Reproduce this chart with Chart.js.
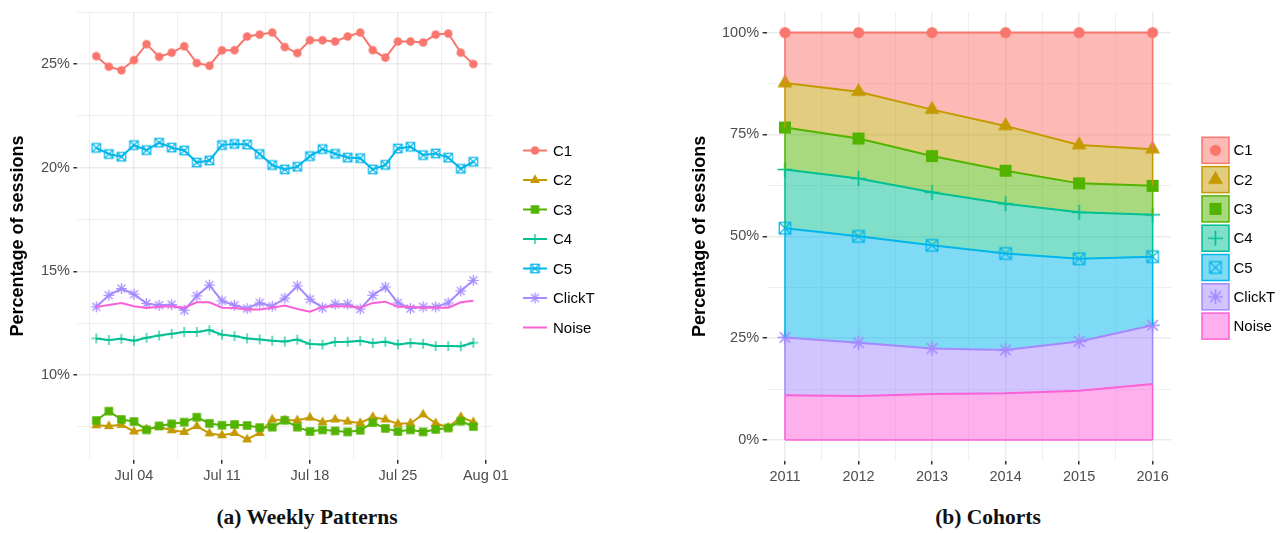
<!DOCTYPE html>
<html>
<head>
<meta charset="utf-8">
<script src="https://cdn.jsdelivr.net/npm/chart.js@4.4.1/dist/chart.umd.min.js"></script>
<style>
  body { margin: 0; background: #fff; width: 1283px; height: 533px; position: relative; overflow: hidden; }
  canvas { position: absolute; top: 0; }
  #weekly { left: 0; }
  #cohorts { left: 640px; }
  .caption { position: absolute; top: 505px; width: 300px; text-align: center;
             font-family: "Liberation Serif", serif; font-weight: bold; font-size: 21.5px; color: #111; }
</style>
</head>
<body>
<canvas id="weekly" width="640" height="492"></canvas>
<canvas id="cohorts" width="643" height="492"></canvas>
<div class="caption" style="left:157px">(a) Weekly Patterns</div>
<div class="caption" style="left:838px">(b) Cohorts</div>
<script>
// series names / colours (ggplot default hue palette)
const seriesNames = ['C1', 'C2', 'C3', 'C4', 'C5', 'ClickT', 'Noise'];
const seriesColors = ['#F8766D', '#C49A00', '#53B400', '#00C094', '#00B6EB', '#A58AFF', '#FB61D7'];
const seriesShapes = ['circle', 'triangle', 'square', 'plus', 'boxx', 'star', null];

// (a) weekly patterns: day of July (32 = Aug 01)
const days = [1, 2, 3, 4, 5, 6, 7, 8, 9, 10, 11, 12, 13, 14, 15, 16, 17, 18, 19, 20, 21, 22, 23, 24, 25, 26, 27, 28, 29, 30, 31];
const weekTickValues = [4, 11, 18, 25, 32];
const weekTickLabels = ['Jul 04', 'Jul 11', 'Jul 18', 'Jul 25', 'Aug 01'];
const weeklyPctTicks = [10, 15, 20, 25];

const weeklyC1 = [25.38, 24.87, 24.70, 25.19, 25.96, 25.35, 25.55, 25.86, 25.05, 24.92, 25.66, 25.67, 26.33, 26.42, 26.52, 25.82, 25.53, 26.15, 26.15, 26.09, 26.33, 26.52, 25.67, 25.31, 26.09, 26.09, 26.04, 26.42, 26.47, 25.55, 25.00];
const weeklyC2 = [7.58, 7.54, 7.60, 7.28, 7.39, 7.50, 7.34, 7.26, 7.54, 7.19, 7.10, 7.21, 6.90, 7.21, 7.86, 7.82, 7.82, 7.95, 7.73, 7.86, 7.76, 7.69, 7.98, 7.86, 7.65, 7.68, 8.10, 7.68, 7.47, 7.98, 7.73];
const weeklyC3 = [7.81, 8.26, 7.86, 7.76, 7.36, 7.55, 7.65, 7.73, 7.97, 7.67, 7.58, 7.62, 7.57, 7.47, 7.49, 7.82, 7.49, 7.28, 7.36, 7.31, 7.26, 7.34, 7.71, 7.43, 7.28, 7.36, 7.26, 7.38, 7.45, 7.78, 7.52];
const weeklyC4 = [11.77, 11.69, 11.75, 11.66, 11.80, 11.91, 11.99, 12.08, 12.08, 12.17, 11.95, 11.88, 11.77, 11.72, 11.66, 11.62, 11.71, 11.50, 11.47, 11.60, 11.61, 11.65, 11.55, 11.61, 11.48, 11.55, 11.51, 11.40, 11.40, 11.39, 11.56];
const weeklyC5 = [20.96, 20.66, 20.53, 21.09, 20.85, 21.21, 20.97, 20.83, 20.25, 20.35, 21.09, 21.15, 21.12, 20.66, 20.13, 19.92, 20.05, 20.56, 20.90, 20.67, 20.49, 20.46, 19.92, 20.14, 20.93, 21.01, 20.61, 20.69, 20.49, 19.95, 20.29];
const weeklyClickT = [13.29, 13.85, 14.17, 13.90, 13.45, 13.37, 13.40, 13.13, 13.82, 14.34, 13.58, 13.37, 13.21, 13.48, 13.32, 13.71, 14.30, 13.66, 13.25, 13.42, 13.42, 13.19, 13.85, 14.25, 13.48, 13.21, 13.29, 13.29, 13.48, 14.06, 14.57];
const weeklyNoise = [13.29, 13.38, 13.48, 13.32, 13.23, 13.29, 13.32, 13.25, 13.51, 13.51, 13.25, 13.23, 13.16, 13.16, 13.25, 13.35, 13.19, 13.06, 13.29, 13.32, 13.32, 13.25, 13.48, 13.54, 13.29, 13.29, 13.25, 13.25, 13.25, 13.51, 13.58];

// (b) cohorts: share of sessions per class, stacked (sums to 100)
const years = [2011, 2012, 2013, 2014, 2015, 2016];
const cohortPctTicks = [0, 25, 50, 75, 100];
const cohortC1 = [12.4, 14.5, 18.9, 22.9, 27.6, 28.6];
const cohortC2 = [10.9, 11.5, 11.4, 11.0, 9.4, 9.0];
const cohortC3 = [10.3, 9.8, 8.9, 8.1, 7.1, 7.1];
const cohortC4 = [14.4, 14.2, 13.0, 12.2, 11.4, 10.3];
const cohortC5 = [26.8, 26.1, 25.3, 23.7, 20.3, 16.8];
const cohortClickT = [14.2, 13.1, 11.2, 10.6, 12.1, 14.4];
const cohortNoise = [11.0, 10.8, 11.3, 11.5, 12.1, 13.8];

const weeklySeries = [weeklyC1, weeklyC2, weeklyC3, weeklyC4, weeklyC5, weeklyClickT, weeklyNoise];
const cohortSeries = [cohortC1, cohortC2, cohortC3, cohortC4, cohortC5, cohortClickT, cohortNoise];

const SANS = '"Liberation Sans", Arial, sans-serif';
Chart.defaults.font.family = SANS;

// small canvases used as point styles (ggplot shapes 16, 17, 15, 3, 7, 8)
function makeMarker(shape, color, size) {
    const c = document.createElement('canvas');
    const dim = Math.ceil(size) + 4;
    c.width = dim; c.height = dim;
    const g = c.getContext('2d');
    const m = dim / 2, r = size / 2;
    g.fillStyle = color;
    g.strokeStyle = color;
    g.lineWidth = Math.max(1.2, size / 9);
    g.beginPath();
    if (shape === 'circle') {
        g.arc(m, m, r, 0, Math.PI * 2);
        g.fill();
    } else if (shape === 'triangle') {
        const h = size * 0.866;
        g.moveTo(m, m - h * 2 / 3);
        g.lineTo(m + r, m + h / 3);
        g.lineTo(m - r, m + h / 3);
        g.closePath();
        g.fill();
    } else if (shape === 'square') {
        g.fillRect(m - r, m - r, size, size);
    } else if (shape === 'plus') {
        g.moveTo(m - r, m); g.lineTo(m + r, m);
        g.moveTo(m, m - r); g.lineTo(m, m + r);
        g.stroke();
    } else if (shape === 'boxx') {
        g.strokeRect(m - r, m - r, size, size);
        g.moveTo(m - r, m - r); g.lineTo(m + r, m + r);
        g.moveTo(m + r, m - r); g.lineTo(m - r, m + r);
        g.stroke();
    } else if (shape === 'star') {
        const d = r * 0.72;
        g.moveTo(m - r, m); g.lineTo(m + r, m);
        g.moveTo(m, m - r); g.lineTo(m, m + r);
        g.moveTo(m - d, m - d); g.lineTo(m + d, m + d);
        g.moveTo(m + d, m - d); g.lineTo(m - d, m + d);
        g.stroke();
    }
    return c;
}

const smallSizes = { circle: 8.5, triangle: 10, square: 8.5, plus: 10, boxx: 8.5, star: 11 };
const bigSizes = { circle: 11, triangle: 15, square: 12, plus: 15, boxx: 11.5, star: 14.5 };
const smallMarkers = seriesShapes.map((s, i) => s ? makeMarker(s, seriesColors[i], smallSizes[s]) : null);
const bigMarkers = seriesShapes.map((s, i) => s ? makeMarker(s, seriesColors[i], bigSizes[s]) : null);

// major ticks plus ggplot-style minor breaks halfway between them
function withMinor(majors, lo, hi) {
    const step = majors[1] - majors[0];
    const all = [];
    majors.forEach(v => all.push({ value: v, lvl: 1 }));
    majors.forEach(v => all.push({ value: v - step / 2, lvl: 0 }));
    all.push({ value: majors[majors.length - 1] + step / 2, lvl: 0 });
    return all.filter(t => t.value >= lo && t.value <= hi).sort((a, b) => a.value - b.value);
}

const tickFont = { size: 14.5 };
const titleFont = { size: 18, weight: 'bold' };

function gridOpts() {
    return {
        color: '#EBEBEB',
        lineWidth: c => (c.tick && c.tick.lvl ? 1.5 : 0.8),
        tickColor: c => (c.tick && c.tick.lvl ? '#333333' : 'rgba(0,0,0,0)'),
        tickLength: 4,
        drawTicks: true
    };
}

// legend drawn on the canvas, ggplot-like keys
function keyLegend(opts) {
    return {
        id: 'keyLegend',
        afterDraw(chart) {
            const ctx = chart.ctx;
            ctx.save();
            ctx.font = '15px ' + SANS;
            ctx.textBaseline = 'middle';
            ctx.textAlign = 'left';
            seriesNames.forEach((name, i) => {
                const y = opts.y0 + i * opts.step;
                const col = seriesColors[i];
                if (opts.boxed) {
                    ctx.fillStyle = col + '80';
                    ctx.strokeStyle = col;
                    ctx.lineWidth = 1.5;
                    ctx.fillRect(opts.x, y - 13, 27, 26);
                    ctx.strokeRect(opts.x, y - 13, 27, 26);
                } else {
                    ctx.strokeStyle = col;
                    ctx.lineWidth = 2;
                    ctx.beginPath();
                    ctx.moveTo(opts.x, y);
                    ctx.lineTo(opts.x + 24, y);
                    ctx.stroke();
                }
                const mk = opts.markers[i];
                if (mk) {
                    const cx = opts.x + (opts.boxed ? 13.5 : 12);
                    ctx.drawImage(mk, cx - mk.width / 2, y - mk.height / 2);
                }
                ctx.fillStyle = '#000';
                ctx.fillText(name, opts.textX, y + 1);
            });
            ctx.restore();
        }
    };
}

// outline of the stacked polygons at the left/right ends and along 0
const areaEdges = {
    id: 'areaEdges',
    afterDatasetsDraw(chart) {
        const ctx = chart.ctx;
        const y0 = chart.scales.y.getPixelForValue(0);
        ctx.save();
        ctx.lineWidth = 1.5;
        chart.data.datasets.forEach((ds, i) => {
            const pts = chart.getDatasetMeta(i).data;
            const below = i > 0 ? chart.getDatasetMeta(i - 1).data : null;
            ctx.strokeStyle = ds.borderColor;
            ctx.beginPath();
            [0, pts.length - 1].forEach(j => {
                ctx.moveTo(pts[j].x, pts[j].y);
                ctx.lineTo(pts[j].x, below ? below[j].y : y0);
            });
            if (i === 0) {
                ctx.moveTo(pts[0].x, y0);
                ctx.lineTo(pts[pts.length - 1].x, y0);
            }
            ctx.stroke();
        });
        ctx.restore();
    }
};

// ---- (a) Weekly Patterns ----
new Chart(document.getElementById('weekly'), {
    type: 'line',
    data: {
        datasets: seriesNames.map((name, i) => ({
            label: name,
            data: days.map((d, k) => ({ x: d, y: weeklySeries[i][k] })),
            borderColor: seriesColors[i],
            backgroundColor: seriesColors[i],
            borderWidth: 2,
            tension: 0,
            fill: false,
            pointStyle: smallMarkers[i] || 'circle',
            pointRadius: smallMarkers[i] ? 5 : 0,
            order: seriesNames.length - i
        }))
    },
    options: {
        responsive: false,
        devicePixelRatio: 1,
        animation: false,
        layout: { padding: { top: 9.5, right: 147.8, left: 0, bottom: 0 } },
        plugins: { legend: { display: false }, tooltip: { enabled: false } },
        scales: {
            x: {
                type: 'linear', min: -0.5, max: 32.5, bounds: 'data',
                afterFit: s => { s.height = 32.3; },
                afterBuildTicks: s => { s.ticks = withMinor(weekTickValues, s.min, s.max); },
                grid: gridOpts(),
                border: { display: false },
                ticks: {
                    autoSkip: false, maxRotation: 0, minRotation: 0, padding: 4,
                    color: '#4D4D4D', font: tickFont,
                    callback: (v, i, t) => (t[i].lvl ? weekTickLabels[weekTickValues.indexOf(v)] : '')
                }
            },
            y: {
                type: 'linear', min: 5.92, max: 27.5, bounds: 'data',
                afterFit: s => { s.width = 77.4; },
                afterBuildTicks: s => { s.ticks = withMinor(weeklyPctTicks, s.min, s.max); },
                grid: gridOpts(),
                border: { display: false },
                ticks: {
                    autoSkip: false, padding: 3.5, color: '#4D4D4D', font: tickFont,
                    callback: (v, i, t) => (t[i].lvl ? v + '%' : '')
                },
                title: { display: true, text: 'Percentage of sessions', color: '#000', font: titleFont, padding: { top: 7.5, bottom: 0 } }
            }
        }
    },
    plugins: [keyLegend({ x: 523, textX: 553, y0: 150.5, step: 29.5, markers: smallMarkers, boxed: false })]
});

// ---- (b) Cohorts (stacked areas, Noise at the bottom) ----
const stackOrder = [6, 5, 4, 3, 2, 1, 0];
new Chart(document.getElementById('cohorts'), {
    type: 'line',
    data: {
        datasets: stackOrder.map((i, k) => ({
            label: seriesNames[i],
            data: years.map((yr, j) => ({ x: yr, y: cohortSeries[i][j] })),
            borderColor: seriesColors[i],
            backgroundColor: seriesColors[i] + '80',
            borderWidth: 2,
            tension: 0,
            fill: k === 0 ? 'origin' : '-1',
            pointStyle: bigMarkers[i] || 'circle',
            pointRadius: bigMarkers[i] ? 6 : 0
        }))
    },
    options: {
        responsive: false,
        devicePixelRatio: 1,
        animation: false,
        layout: { padding: { top: 9.5, right: 112, left: 0, bottom: 0 } },
        plugins: { legend: { display: false }, tooltip: { enabled: false } },
        scales: {
            x: {
                type: 'linear', min: 2010.75, max: 2016.25, bounds: 'data',
                afterFit: s => { s.height = 31.5; },
                afterBuildTicks: s => { s.ticks = withMinor(years, s.min, s.max); },
                grid: gridOpts(),
                border: { display: false },
                ticks: {
                    autoSkip: false, maxRotation: 0, minRotation: 0, padding: 4,
                    color: '#4D4D4D', font: tickFont,
                    callback: (v, i, t) => (t[i].lvl ? String(v) : '')
                }
            },
            y: {
                type: 'linear', min: -5, max: 105, bounds: 'data', stacked: true,
                afterFit: s => { s.width = 126.6; },
                afterBuildTicks: s => { s.ticks = withMinor(cohortPctTicks, s.min, s.max); },
                grid: gridOpts(),
                border: { display: false },
                ticks: {
                    autoSkip: false, padding: 3.5, color: '#4D4D4D', font: tickFont,
                    callback: (v, i, t) => (t[i].lvl ? v + '%' : '')
                },
                title: { display: true, text: 'Percentage of sessions', color: '#000', font: titleFont, padding: { top: 49.5, bottom: 0 } }
            }
        }
    },
    plugins: [areaEdges, keyLegend({ x: 562, textX: 593.5, y0: 150.3, step: 29.3, markers: bigMarkers, boxed: true })]
});
</script>
</body>
</html>
